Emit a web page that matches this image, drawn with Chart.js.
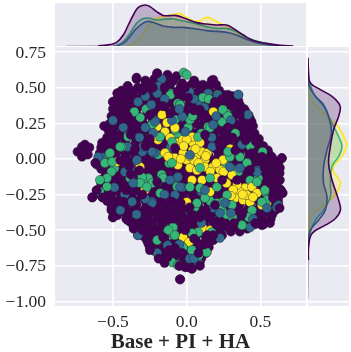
<!DOCTYPE html>
<html><head><meta charset="utf-8">
<script src="https://cdn.jsdelivr.net/npm/chart.js@4/dist/chart.umd.min.js"></script>
<style>
html,body{margin:0;padding:0;background:#fff;width:351px;height:352px;overflow:hidden}
canvas{position:absolute}
</style></head><body>
<canvas id="main" style="left:0;top:0"></canvas>
<canvas id="top" style="left:55px;top:3px"></canvas>
<canvas id="right" style="left:308px;top:47px"></canvas>
<script>
const xTicks=[-0.5,0,0.5];
const yTicks=[0.75,0.5,0.25,0,-0.25,-0.5,-0.75,-1];
const xLabel="Base + PI + HA";

const purpleUnder=[[-.2,.6],[-.13,.59],[-.07,.58],[-.34,.56],[-.28,.55],[-.22,.56],[-.15,.54],[-.09,.55],[-.03,.53],[.05,.55],[.11,.52],[.17,.55],[.2,.52],
[-.4,.51],[-.33,.5],[-.26,.5],[-.19,.49],[-.12,.5],[-.05,.48],[.02,.49],[.08,.47],[.15,.49],[.22,.48],[.28,.45],
[-.47,.46],[-.41,.45],[-.36,.44],[-.29,.45],[-.22,.44],[-.15,.45],[-.08,.43],[-.01,.44],[.05,.43],[.12,.44],[.19,.42],[.26,.42],[.33,.42],
[-.5,.4],[-.44,.4],[-.38,.39],[-.31,.4],[-.25,.39],[-.18,.39],[-.11,.39],[-.04,.38],[.03,.39],[.1,.38],[.16,.38],[.23,.38],[.3,.37],[.36,.38],
[-.5,.35],[-.46,.34],[-.41,.34],[-.34,.35],[-.27,.34],[-.2,.34],[-.14,.33],[-.07,.34],[.0,.33],[.07,.33],[.14,.32],[.21,.33],[.27,.33],[.34,.33],[.4,.33],
[-.51,.3],[-.44,.29],[-.37,.29],[-.3,.29],[-.23,.28],[-.16,.29],[-.09,.28],[-.02,.28],[.05,.28],[.12,.27],[.18,.28],[.25,.28],[.31,.28],[.38,.29],[.43,.28],
[-.52,.25],[-.47,.24],[-.4,.24],[-.33,.24],[-.26,.23],[-.19,.24],[-.12,.23],[-.05,.23],[.02,.23],[.09,.22],[.15,.23],[.22,.23],[.29,.23],[.35,.23],[.41,.24],[.45,.23],
[-.56,.23],[-.53,.2],[-.44,.19],[-.37,.19],[-.3,.18],[-.23,.18],[-.16,.18],[-.09,.18],[-.02,.18],[.05,.18],[.12,.17],[.19,.18],[.26,.18],[.32,.18],[.39,.18],[.46,.18],
[-.54,.15],[-.48,.14],[-.41,.14],[-.34,.13],[-.27,.13],[-.2,.13],[-.13,.13],[-.06,.13],[.01,.13],[.08,.13],[.15,.12],[.22,.13],[.29,.13],[.35,.13],[.42,.13],[.49,.14],
[-.58,.08],[-.52,.09],[-.45,.09],[-.38,.08],[-.31,.08],[-.24,.08],[-.17,.08],[-.1,.08],[-.03,.08],[.04,.08],[.11,.07],[.18,.08],[.25,.08],[.32,.08],[.39,.08],[.46,.08],[.52,.09],
[-.59,.04],[-.55,.03],[-.48,.04],[-.41,.03],[-.34,.03],[-.27,.03],[-.2,.03],[-.13,.03],[-.06,.03],[.01,.03],[.08,.03],[.15,.02],[.22,.03],[.29,.03],[.36,.03],[.43,.03],[.5,.03],[.56,.03],
[-.61,-.04],[-.52,-.02],[-.45,-.02],[-.38,-.02],[-.31,-.02],[-.24,-.02],[-.17,-.02],[-.1,-.02],[-.03,-.02],[.04,-.02],[.11,-.03],[.18,-.02],[.25,-.02],[.32,-.02],[.39,-.02],[.46,-.02],[.53,-.02],[.59,-.01],[.645,.005],
[-.58,-.07],[-.51,-.07],[-.44,-.07],[-.37,-.07],[-.3,-.07],[-.23,-.07],[-.16,-.07],[-.09,-.07],[-.02,-.07],[.05,-.07],[.12,-.08],[.19,-.07],[.26,-.07],[.33,-.07],[.4,-.07],[.47,-.07],[.54,-.07],[.6,-.06],
[-.55,-.12],[-.48,-.12],[-.41,-.12],[-.34,-.12],[-.27,-.12],[-.2,-.12],[-.13,-.12],[-.06,-.12],[.01,-.12],[.08,-.12],[.15,-.13],[.22,-.12],[.29,-.12],[.36,-.12],[.43,-.12],[.5,-.12],[.57,-.12],[.63,-.1],
[-.58,-.17],[-.52,-.17],[-.45,-.17],[-.38,-.17],[-.31,-.17],[-.24,-.17],[-.17,-.17],[-.1,-.17],[-.03,-.17],[.04,-.17],[.11,-.18],[.18,-.17],[.25,-.17],[.32,-.17],[.39,-.17],[.46,-.17],[.53,-.17],[.6,-.16],
[-.61,-.22],[-.55,-.22],[-.48,-.22],[-.41,-.22],[-.34,-.22],[-.27,-.22],[-.2,-.22],[-.13,-.22],[-.06,-.22],[.01,-.22],[.08,-.23],[.15,-.22],[.22,-.22],[.29,-.22],[.36,-.22],[.43,-.22],[.5,-.22],[.57,-.22],[.63,-.21],
[-.64,-.27],[-.57,-.27],[-.51,-.27],[-.44,-.27],[-.37,-.27],[-.3,-.27],[-.23,-.27],[-.16,-.27],[-.09,-.27],[-.02,-.27],[.05,-.27],[.12,-.28],[.19,-.27],[.26,-.27],[.33,-.27],[.4,-.27],[.47,-.27],[.54,-.27],[.61,-.26],[.65,-.24],
[-.51,-.32],[-.47,-.32],[-.41,-.32],[-.34,-.32],[-.27,-.32],[-.2,-.32],[-.13,-.32],[-.06,-.32],[.01,-.32],[.08,-.33],[.15,-.32],[.22,-.32],[.29,-.32],[.36,-.32],[.43,-.32],[.5,-.32],[.57,-.32],[.62,-.31],
[-.51,-.36],[-.44,-.37],[-.37,-.37],[-.3,-.37],[-.23,-.37],[-.16,-.37],[-.09,-.37],[-.02,-.37],[.05,-.37],[.12,-.38],[.19,-.37],[.26,-.37],[.33,-.37],[.4,-.37],[.47,-.37],[.54,-.37],[.6,-.36],
[-.5,-.41],[-.41,-.42],[-.34,-.42],[-.27,-.42],[-.2,-.42],[-.13,-.42],[-.06,-.42],[.01,-.42],[.08,-.43],[.15,-.42],[.22,-.42],[.29,-.42],[.36,-.42],[.43,-.42],[.5,-.42],[.57,-.42],
[-.36,-.47],[-.3,-.47],[-.23,-.47],[-.16,-.47],[-.09,-.47],[-.02,-.47],[.05,-.47],[.12,-.47],[.19,-.47],[.26,-.47],[.33,-.46],[.4,-.46],[.46,-.46],[.52,-.46],
[-.31,-.52],[-.26,-.52],[-.19,-.52],[-.12,-.52],[-.05,-.52],[.02,-.52],[.09,-.52],[.16,-.52],[.23,-.52],[.3,-.51],[.36,-.51],[.41,-.49],
[-.27,-.57],[-.22,-.57],[-.15,-.57],[-.08,-.57],[-.01,-.57],[.06,-.57],[.13,-.57],[.18,-.57],
[-.25,-.62],[-.18,-.62],[-.11,-.62],[-.04,-.62],[.03,-.62],[.1,-.62],[.15,-.62],
[-.19,-.68],[-.14,-.67],[-.07,-.67],[.0,-.67],[.07,-.67],[.13,-.66],
[-.15,-.72],[-.1,-.72],[-.03,-.72],[.04,-.72],[.09,-.72],
[-.05,-.75],[.0,-.76],[.035,-.77],[-.045,-.845],
[-.69,.1],[-.71,.085],[-.74,.05],[-.69,.05],[-.71,.015],[-.67,.03],[-.66,.08],[-.72,.045]];

const purpleFill=[[-.25,.525],[-.18,.52],[-.11,.525],[-.04,.51],[.03,.52],[.09,.5],[.16,.52],
[-.44,.48],[-.37,.475],[-.3,.47],[-.23,.47],[-.16,.47],[-.09,.47],[-.02,.46],[.05,.46],[.12,.47],[.19,.455],[.25,.45],[.31,.44],
[-.47,.425],[-.4,.42],[-.33,.42],[-.26,.42],[-.19,.42],[-.12,.42],[-.05,.41],[.02,.41],[.09,.41],[.16,.41],[.22,.41],[.29,.4],[.35,.41],
[-.48,.37],[-.43,.37],[-.36,.37],[-.29,.37],[-.22,.365],[-.15,.36],[-.08,.36],[-.01,.36],[.06,.36],[.13,.35],[.2,.36],[.26,.355],[.33,.36],[.39,.35],
[-.48,.315],[-.41,.31],[-.34,.315],[-.27,.31],[-.2,.31],[-.13,.305],[-.06,.31],[.02,.305],[.09,.3],[.16,.3],[.23,.305],[.29,.305],[.36,.31],[.42,.305],
[-.49,.265],[-.44,.26],[-.37,.26],[-.3,.26],[-.23,.255],[-.16,.26],[-.09,.255],[-.02,.255],[.06,.25],[.12,.25],[.19,.255],[.26,.255],[.32,.255],[.39,.26],[.44,.26],
[-.5,.21],[-.41,.215],[-.34,.21],[-.27,.205],[-.2,.21],[-.13,.205],[-.06,.205],[.02,.205],[.09,.195],[.16,.2],[.23,.205],[.29,.205],[.36,.205],[.43,.21],
[-.51,.17],[-.45,.165],[-.38,.165],[-.31,.155],[-.24,.155],[-.17,.155],[-.1,.155],[-.03,.155],[.04,.155],[.12,.145],[.18,.15],[.25,.155],[.32,.155],[.39,.155],[.46,.16],
[-.56,.115],[-.49,.115],[-.42,.11],[-.35,.105],[-.28,.105],[-.21,.105],[-.14,.105],[-.07,.105],[.0,.105],[.07,.1],[.14,.095],[.21,.105],[.28,.105],[.35,.105],[.42,.105],[.49,.11],
[-.57,.06],[-.5,.065],[-.44,.06],[-.37,.055],[-.28,.055],[-.21,.055],[-.14,.055],[-.07,.055],[.0,.055],[.07,.05],[.14,.05],[.21,.055],[.28,.055],[.35,.055],[.42,.055],[.49,.055],[.55,.06],
[-.58,.005],[-.49,.01],[-.42,.005],[-.35,.005],[-.28,.005],[-.21,.005],[-.14,.005],[-.07,.005],[.0,.005],[.07,.0],[.14,-.005],[.21,.005],[.28,.005],[.35,.005],[.42,.005],[.49,.005],[.56,.01],
[-.58,-.02],[-.55,-.045],[-.48,-.045],[-.41,-.045],[-.34,-.045],[-.27,-.045],[-.2,-.045],[-.13,-.045],[-.06,-.045],[.01,-.045],[.08,-.05],[.15,-.05],[.22,-.045],[.29,-.045],[.36,-.045],[.43,-.045],[.5,-.045],[.57,-.04],[.62,-.03],
[-.55,-.095],[-.46,-.095],[-.39,-.095],[-.32,-.095],[-.25,-.095],[-.18,-.095],[-.11,-.095],[-.04,-.095],[.03,-.095],[.1,-.1],[.17,-.1],[.24,-.095],[.31,-.095],[.38,-.095],[.45,-.095],[.52,-.095],[.59,-.09],
[-.57,-.145],[-.5,-.145],[-.43,-.145],[-.36,-.145],[-.29,-.145],[-.22,-.145],[-.15,-.145],[-.08,-.145],[-.01,-.145],[.06,-.15],[.13,-.15],[.2,-.145],[.27,-.145],[.34,-.145],[.41,-.145],[.48,-.145],[.55,-.145],[.61,-.13],
[-.58,-.195],[-.5,-.195],[-.43,-.195],[-.36,-.195],[-.29,-.195],[-.22,-.195],[-.15,-.195],[-.08,-.195],[-.01,-.195],[.06,-.2],[.13,-.2],[.2,-.195],[.27,-.195],[.34,-.195],[.41,-.195],[.48,-.195],[.55,-.195],[.61,-.19],
[-.6,-.245],[-.52,-.245],[-.45,-.245],[-.38,-.245],[-.31,-.245],[-.24,-.245],[-.17,-.245],[-.1,-.245],[-.03,-.245],[.04,-.25],[.1,-.25],[.17,-.245],[.24,-.245],[.31,-.245],[.38,-.245],[.45,-.245],[.52,-.245],[.59,-.245],[.64,-.22],
[-.54,-.295],[-.49,-.295],[-.42,-.295],[-.35,-.295],[-.28,-.295],[-.21,-.295],[-.14,-.295],[-.07,-.295],[.0,-.295],[.07,-.3],[.14,-.3],[.21,-.295],[.28,-.295],[.35,-.295],[.42,-.295],[.49,-.295],[.56,-.295],[.62,-.285],
[-.49,-.345],[-.42,-.345],[-.35,-.345],[-.28,-.345],[-.21,-.345],[-.14,-.345],[-.07,-.345],[.0,-.345],[.07,-.35],[.14,-.35],[.21,-.345],[.28,-.345],[.35,-.345],[.42,-.345],[.49,-.345],[.56,-.345],[.61,-.34],
[-.47,-.395],[-.4,-.395],[-.33,-.395],[-.26,-.395],[-.19,-.395],[-.12,-.395],[-.05,-.395],[.02,-.395],[.09,-.4],[.16,-.395],[.23,-.395],[.3,-.395],[.37,-.395],[.44,-.395],[.51,-.395],[.58,-.39],
[-.38,-.445],[-.31,-.445],[-.24,-.445],[-.17,-.445],[-.1,-.445],[-.03,-.445],[.04,-.445],[.11,-.445],[.18,-.445],[.25,-.445],[.32,-.44],[.39,-.44],[.46,-.44],[.53,-.44],
[-.34,-.495],[-.27,-.495],[-.2,-.495],[-.13,-.495],[-.06,-.495],[.01,-.495],[.08,-.495],[.15,-.495],[.22,-.495],[.29,-.49],[.35,-.485],[.4,-.475],
[-.29,-.545],[-.22,-.545],[-.15,-.545],[-.08,-.545],[-.01,-.545],[.06,-.545],[.13,-.545],[.19,-.545],[.24,-.535],
[-.26,-.595],[-.2,-.595],[-.13,-.595],[-.06,-.595],[.01,-.595],[.08,-.595],[.15,-.59],
[-.22,-.645],[-.15,-.645],[-.08,-.645],[-.01,-.645],[.06,-.645],[.12,-.64],
[-.16,-.695],[-.09,-.695],[-.02,-.695],[.05,-.695],[.1,-.695]];

const blueUnder=[[-.17,.56],[-.2,.46],[-.28,.44],[-.19,.51],[-.24,.38],[-.21,.27],[-.28,.22],[-.43,.22],[-.5,.27],[-.32,.15],[-.3,.05],[-.34,-.02],[-.42,-.09],[-.2,.03],[-.57,.01],[-.4,.085],[-.11,.08],
[.35,.45],[.21,.44],[.02,.47],[.145,.46],[.18,.24],[.17,.15],[.375,.1],[.415,.31],[.09,.4],[.48,-.08],
[-.36,-.17],[-.235,-.3],[-.37,-.3],[-.45,-.36],[-.34,-.39],[-.33,-.535],[-.13,-.605],[-.2,-.66],[-.09,-.49],[-.49,-.2],
[-.06,-.13],[-.03,-.2],[.1,-.23],[.225,-.38],[.61,-.34],[.02,-.7],[-.025,-.57],[.08,-.73],[.43,-.48],[.545,-.345],[.48,-.15],[-.09,-.15],[.225,-.555],[.18,-.345]];

const greenUnder=[[-.11,.45],[-.275,.35],[-.355,.33],[-.315,.29],[-.4,.16],[-.44,.085],[-.525,.035],[-.555,-.03],[-.49,-.065],[-.195,.03],[-.12,-.03],[-.17,-.11],[-.235,.24],[-.08,.22],[-.08,.08],[-.06,.39],[-.06,.155],
[-.045,.38],[-.03,.295],[-.11,.46],[.11,.43],[.21,.45],[.245,.345],[.27,.32],[.24,.26],[.145,.225],[.1,.18],[-.08,.275],[.01,.22],[-.08,.205],[.515,.05],[.285,.015],[.26,-.04],[.41,-.03],[-.065,.12],[.485,-.135],[.31,-.075],
[-.54,-.195],[-.59,-.23],[-.51,-.09],[-.26,-.135],[-.295,-.17],[-.235,-.17],[-.195,-.16],[-.125,-.5],[-.09,-.535],[-.2,-.57],[-.1,-.725],
[-.08,-.535],[.035,-.64],[.08,-.515],[-.025,-.62],[.135,-.655],[-.06,-.745],[.08,-.68],[.31,-.41],[.375,-.465],[.24,-.36],[.16,-.295],[.055,-.34],[.205,-.31],[.51,-.325],[.53,-.23],[.43,-.15],[.35,-.09],[-.065,-.195]];

const yellow=[[.18,.33],[-.167,.31],[-.2,.225],[-.134,.254],[-.08,.218],[-.147,.19],[-.113,.148],[-.06,.113],[-.025,.134],[.043,.113],[.09,.113],[-.025,.042],[.07,.028],[-.147,.042],[0,-.007],[.104,.05],[.124,-.007],[-.08,.007],[-.06,-.042],[.022,-.063],[.124,-.056],[.178,-.056],[-.195,.134],[.036,.155],[.226,-.077],[.205,-.134],[.246,-.007],[.307,-.113],[.395,-.204],[.443,-.197],[.477,-.24],[.361,-.232],[.327,-.275],[.382,-.289],[.429,-.303],[.341,-.183],[.51,-.324],[.409,-.254],[.45,-.268],[.314,-.218],[.544,-.31],[.036,-.148],[.104,-.148],[0,-.303],[.158,-.232],[.11,-.486],[-.025,-.55],[-.316,-.056],[-.472,-.02],[-.283,-.218],
[-.21,.16],[-.125,.015],[.04,.06],[-.09,.1],[.0,.135],[.1,.05],[.14,.04],[.295,.07],[.015,-.585],[.16,-.5],[.27,-.17],[.38,-.25],[.3,-.26],[.05,-.01],[.07,-.08],[.16,-.09],
[-.02,.09],[.02,.02],[.08,-.03],[-.04,.0],[.06,.07],[.13,.02],[.2,-.03],[.25,-.09]];

const greenOver=[[-.02,.605],[.0,.59],[.022,.275],[.158,.218],[-.1,.12],[-.1,-.028],[.09,-.063],[.077,.155],[-.18,.155],
[.205,-.197],[.273,-.254],[.246,-.303],[.307,-.324],[.477,-.162],[.53,-.218],[.409,-.028],[.361,.014],[.293,.014],[.24,-.324],[.28,.05],[.544,-.289],[.443,-.36],[.51,-.303],
[-.16,-.134],[.022,-.197],[.09,-.204],[-.18,-.24],[.158,-.134],[.07,-.31],[.124,-.275],[-.093,-.479],[.077,-.514],[-.08,-.535],[.17,-.514],[.036,-.52],
[-.398,.155],[-.452,.085],[-.52,.042],[-.554,-.028],[-.506,-.02],[-.54,-.134],[-.588,-.148],[-.303,-.127],[-.317,-.169],[-.27,-.197],[-.384,-.134],
[-.11,.45],[-.275,.35],[-.355,.33],[.11,.43],[.245,.345],[.24,.26],[-.045,.38],[-.235,.24],[.035,-.64],[.135,-.655],[.08,-.68],[-.025,-.62],[-.06,-.745],[.31,-.41],[.375,-.465],[-.125,-.5],[-.2,-.57],
[.04,.3],[.15,.42],[.33,.18],[.43,.09],[.28,.3],[.27,-.39],[.42,-.41]];

const blueOver=[[-.215,.26],[-.03,.296],[-.01,.19],[.172,.085],[.022,.028],[-.215,.042],
[.477,-.092],[.361,-.063],[.26,-.31],[.544,-.345],[.62,-.324],[.293,-.056],
[-.06,-.127],[-.045,-.197],[-.113,-.148],[-.235,-.31],[.124,-.218],[-.08,-.254],[-.025,-.394],
[-.296,.085],[-.337,-.007],[-.418,-.092],[-.364,-.169],[-.384,-.063],[-.228,.183],[-.235,.05],[-.6,.014],
[-.28,.44],[-.24,.38],[-.2,.46],[.35,.45],[.21,.44],[.18,.24],[.375,.1],[-.28,.22],[.02,-.7],[-.13,-.605],[-.33,-.535],[-.34,-.39],[.225,-.38],
[.05,.42],[-.05,.35],[.12,.36],[.2,.3],[.3,.27],[-.15,.42],[-.33,.4],[-.1,.27],[.3,-.38],[.45,-.42],[-.28,-.28],[-.42,-.25],[-.15,-.25],[.1,-.45],[-.05,-.6],[.05,-.7]];

const purpleOver=[[-.2,.6],[-.34,.57],[-.4,.51],[-.28,.52],[-.47,.46],[-.5,.4],[-.44,.43],[-.36,.47],[-.3,.48],[-.23,.5],[-.15,.5],[-.06,.47],[.01,.43],[-.01,.5],[.06,.53],[.18,.555],[.19,.4],[.09,.345],[.24,.42],[.3,.4],[.34,.38],[.36,.31],
[-.11,.32],[-.16,.37],[-.1,.55],[.12,.31],[.05,.34],[-.25,.31],[-.4,.3],[-.44,.35],[-.35,.24],[-.38,.17],[-.46,.16],[-.5,.18],[-.28,.09],[-.35,.07],[-.25,.14],[-.24,-.03],[-.32,-.08],[-.45,-.01],[-.39,-.05],[-.55,.1],
[.28,.22],[.36,.24],[.31,.15],[.41,.19],[.225,.1],[.44,.04],[.51,.015],[.645,.005],[.33,.06],[.47,.12],[.578,.014],[.4,.13],[-.08,.077],[.124,.169],[.341,-.148],[.24,-.148],[.632,-.063],[.585,-.099],[.53,-.063],[.429,-.077],[.632,-.148],[.585,-.275],[.565,-.169],[.61,-.15],
[-.2,-.162],[.192,-.324],[.158,-.415],[.043,-.394],[-.16,-.31],[-.1,-.3],[-.04,-.31],[.02,-.34],[-.14,-.37],[-.08,-.36],[-.03,-.35],[-.15,-.43],[-.09,-.42],[-.03,-.4],[.03,-.41],
[.375,-.39],[.09,-.41],[.01,-.45],[-.03,-.45],[.28,-.48],[.18,-.535],[.14,-.535],[.08,-.66],[-.08,-.625],[-.01,-.76],[.035,-.77],[-.045,-.845],[.65,-.24],[.63,-.345],[.465,-.45],[.51,-.465],[.565,-.45],[.2,-.46],[.13,-.36],[.32,-.45],
[-.64,-.27],[-.57,-.27],[-.61,-.22],[-.51,-.345],[-.5,-.41],[-.4,-.43],[-.36,-.49],[-.25,-.64],[-.19,-.7],[-.15,-.73],[-.05,-.75],[-.43,-.3],[-.41,-.22],[-.3,-.25],[-.26,-.36],[-.28,-.43],[-.2,-.42],[-.22,-.5],[-.16,-.55],[-.3,-.5],[-.12,-.64],[-.03,-.66],[.05,-.56],[.12,-.6],[-.13,-.69],[.09,-.75],[-.01,-.5],
[-.62,-.028],[-.418,.007],[-.574,.113],[-.47,-.14],[-.38,-.11]];

const topPurple=[[-.814,0],[-.6,.01],[-.52,.07],[-.475,.18],[-.43,.55],[-.396,1.05],[-.362,1.55],[-.328,1.93],[-.283,2.05],[-.249,1.97],[-.204,1.72],[-.159,1.53],[-.113,1.52],[-.068,1.52],[0,1.35],[.067,1.17],[.135,1.1],[.203,1.05],[.27,1.05],[.316,.88],[.384,.55],[.452,.27],[.542,.13],[.632,.03],[.723,0]];
const topYellow=[[-.41,0],[-.385,.03],[-.362,.08],[-.294,.63],[-.226,1.3],[-.159,1.47],[-.091,1.57],[-.046,1.63],[0,1.43],[.067,1.22],[.135,1.43],[.18,1.33],[.225,1.13],[.27,1],[.316,.8],[.384,.47],[.474,.22],[.565,.05],[.65,0]];
const topGreen=[[-.5,0],[-.475,.03],[-.43,.22],[-.385,.63],[-.34,1.13],[-.294,1.37],[-.249,1.38],[-.204,1.3],[-.159,1.33],[-.091,1.35],[-.023,1.25],[.067,1.1],[.135,.97],[.203,.88],[.27,.88],[.338,.72],[.406,.43],[.497,.2],[.587,.05],[.68,0]];
const topBlue=[[-.5,0],[-.475,.02],[-.43,.13],[-.385,.47],[-.34,.88],[-.272,1.22],[-.226,1.18],[-.159,1],[-.091,.93],[-.023,.93],[.067,.85],[.135,.77],[.203,.73],[.27,.68],[.338,.55],[.406,.33],[.497,.13],[.587,.03],[.68,0]];

const rightPurple=[[.0,-.98],[.02,-.711],[.03,-.617],[.2,-.523],[.87,-.465],[1.37,-.418],[1.62,-.359],[1.53,-.289],[1.2,-.148],[1.03,-.03],[1.12,.087],[1.28,.204],[1.53,.298],[1.62,.357],[1.53,.392],[1.2,.439],[.62,.486],[.12,.533],[.03,.603],[0,.71]];
const rightYellow=[[0,-.6],[.07,-.477],[.2,-.394],[.7,-.336],[1.2,-.277],[1.53,-.218],[1.62,-.16],[1.28,-.089],[1.28,-.054],[1.7,.016],[1.95,.099],[1.87,.134],[1.7,.181],[1.45,.239],[.95,.298],[.37,.38],[.03,.462],[0,.55]];
const rightGreen=[[0,-.6],[.12,-.512],[.37,-.43],[.78,-.359],[1.12,-.265],[1.12,-.172],[1.2,-.054],[1.53,.016],[1.7,.087],[1.53,.157],[1.2,.251],[.78,.369],[.37,.439],[.07,.533],[0,.6]];
const rightBlue=[[0,-.6],[.12,-.5],[.53,-.43],[.87,-.359],[.95,-.265],[.78,-.172],[.78,-.054],[.95,.063],[1.17,.181],[1.03,.298],[.78,.38],[.37,.439],[.07,.509],[0,.6]];

const PURPLE='#440154',BLUE='#31688e',GREEN='#35b779',YELLOW='#fde725';
const PANEL='#eaeaf2',GRID='#ffffff',TEXT='#262626';
const rgba=(h,a)=>{const n=parseInt(h.slice(1),16);return `rgba(${n>>16},${(n>>8)&255},${n&255},${a})`;};
const toXY=a=>a.map(p=>({x:p[0],y:p[1]}));

const panelBg={id:'panelBg',beforeDraw(c){const a=c.chartArea;c.ctx.save();c.ctx.fillStyle=PANEL;c.ctx.fillRect(a.left,a.top,a.right-a.left,a.bottom-a.top);c.ctx.restore();}};
const XMIN=-0.893,XMAX=0.809,YMIN=-1.032,YMAX=0.785;
const base={responsive:false,animation:false,events:[],plugins:{legend:{display:false},tooltip:{enabled:false}}};
const pts=(d,c)=>({data:toXY(d),backgroundColor:c,borderColor:'rgba(40,30,45,.7)',borderWidth:.6,pointRadius:4.6,showLine:false});

function size(id,w,h){const c=document.getElementById(id);c.width=w;c.height=h;c.style.width=w+'px';c.style.height=h+'px';return c;}

new Chart(size('main',351,352),{type:'scatter',plugins:[panelBg],
 data:{datasets:[pts(purpleOver,PURPLE),pts(blueOver,BLUE),pts(greenOver,GREEN),pts(yellow,YELLOW),pts(greenUnder,GREEN),pts(blueUnder,BLUE),pts(purpleFill,PURPLE),pts(purpleUnder,PURPLE)]},
 options:{...base,layout:{padding:{left:0,right:45,top:47,bottom:0}},
 scales:{
  x:{type:'linear',min:XMIN,max:XMAX,border:{display:false},grid:{color:GRID,lineWidth:1.5,drawTicks:false},
     afterBuildTicks:s=>{s.ticks=xTicks.map(v=>({value:v}));},
     afterFit:s=>{s.height=46;},
     ticks:{color:TEXT,padding:6,maxRotation:0,font:{family:'"Liberation Serif"',size:17.5},callback:v=>(v<0?'\u2212':'')+Math.abs(v).toFixed(1)},
     title:{display:true,text:xLabel,color:TEXT,padding:{top:1,bottom:-3.5},font:{family:'"Liberation Serif"',size:21,weight:'bold'}}},
  y:{type:'linear',min:YMIN,max:YMAX,border:{display:false},grid:{color:GRID,lineWidth:1.5,drawTicks:false},
     afterBuildTicks:s=>{s.ticks=yTicks.map(v=>({value:v}));},
     afterFit:s=>{s.width=55;},
     ticks:{color:TEXT,padding:9,labelOffset:1,font:{family:'"Liberation Serif"',size:17.5},callback:v=>(v<0?'\u2212':'')+Math.abs(v).toFixed(2)}}
 }}});

const kde=(d,c,key)=>({data:toXY(d),borderColor:c,backgroundColor:rgba(c,.25),borderWidth:1.6,pointRadius:0,tension:.4,fill:'origin',
  segment:{borderColor:ctx=>Math.max(ctx.p0.parsed[key],ctx.p1.parsed[key])<.025?rgba(c,.25):undefined}});
const curves=(p,b,g,y,key)=>[kde(p,PURPLE,key),kde(b,BLUE,key),kde(g,GREEN,key),kde(y,YELLOW,key)];

new Chart(size('top',251,43),{type:'line',plugins:[panelBg],
 data:{datasets:curves(topPurple,topBlue,topGreen,topYellow,'y')},
 options:{...base,layout:{padding:0},scales:{
  x:{type:'linear',min:XMIN,max:XMAX,border:{display:false},grid:{color:GRID,lineWidth:1.5,drawTicks:false},
     afterBuildTicks:s=>{s.ticks=xTicks.map(v=>({value:v}));},afterFit:s=>{s.height=0;},ticks:{display:false}},
  y:{type:'linear',min:0,max:2.15,display:false}}}});

new Chart(size('right',41,259),{type:'line',plugins:[panelBg],
 data:{datasets:curves(rightPurple,rightBlue,rightGreen,rightYellow,'x')},
 options:{...base,indexAxis:'y',layout:{padding:0},scales:{
  y:{type:'linear',min:YMIN,max:YMAX,border:{display:false},grid:{color:GRID,lineWidth:1.5,drawTicks:false},
     afterBuildTicks:s=>{s.ticks=yTicks.map(v=>({value:v}));},afterFit:s=>{s.width=0;},ticks:{display:false}},
  x:{type:'linear',min:0,max:2.05,display:false}}}});
</script></body></html>
